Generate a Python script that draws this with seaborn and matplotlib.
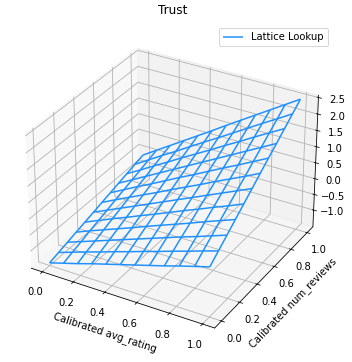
import numpy as np
import matplotlib
matplotlib.use("Agg")
import matplotlib.pyplot as plt
import seaborn as sns

# calibrated inputs
avg_rating = [0.0, 0.0909, 0.1818, 0.2727, 0.3636, 0.4545, 0.5455, 0.6364, 0.7273, 0.8182, 0.9091, 1.0]
num_reviews = [0.0, 0.0909, 0.1818, 0.2727, 0.3636, 0.4545, 0.5455, 0.6364, 0.7273, 0.8182, 0.9091, 1.0]
trust_ticks = [-1.0, -0.5, 0.0, 0.5, 1.0, 1.5, 2.0, 2.5]

# trust output, one row per num_reviews value
trust = [
    [-1.45, -1.32, -1.19, -1.05, -0.92, -0.79, -0.66, -0.53, -0.40, -0.26, -0.13, 0.00],
    [-1.37, -1.22, -1.07, -0.93, -0.78, -0.64, -0.49, -0.35, -0.20, -0.06, 0.09, 0.23],
    [-1.29, -1.13, -0.97, -0.81, -0.65, -0.49, -0.33, -0.17, -0.01, 0.14, 0.30, 0.46],
    [-1.21, -1.03, -0.86, -0.69, -0.52, -0.34, -0.17, 0.00, 0.17, 0.35, 0.52, 0.69],
    [-1.13, -0.94, -0.75, -0.57, -0.38, -0.20, -0.01, 0.18, 0.36, 0.55, 0.73, 0.92],
    [-1.05, -0.85, -0.65, -0.45, -0.25, -0.05, 0.15, 0.35, 0.55, 0.75, 0.95, 1.15],
    [-0.97, -0.75, -0.54, -0.33, -0.12, 0.10, 0.31, 0.52, 0.74, 0.95, 1.16, 1.38],
    [-0.89, -0.66, -0.43, -0.21, 0.02, 0.25, 0.47, 0.70, 0.93, 1.15, 1.38, 1.61],
    [-0.81, -0.57, -0.33, -0.09, 0.15, 0.39, 0.63, 0.87, 1.11, 1.35, 1.59, 1.83],
    [-0.73, -0.48, -0.22, 0.03, 0.29, 0.54, 0.79, 1.05, 1.30, 1.56, 1.81, 2.06],
    [-0.65, -0.38, -0.11, 0.15, 0.42, 0.69, 0.95, 1.22, 1.49, 1.76, 2.02, 2.29],
    [-0.57, -0.29, -0.01, 0.27, 0.55, 0.83, 1.12, 1.40, 1.68, 1.96, 2.24, 2.52],
]

X, Y = np.meshgrid(avg_rating, num_reviews)
Z = np.array(trust)

sns.set_style(
    "white",
    {
        "text.color": "black",
        "axes.labelcolor": "black",
        "xtick.color": "black",
        "ytick.color": "black",
        "axes.edgecolor": "black",
        "grid.color": "#b0b0b0",
    },
)
plt.rcParams["font.family"] = ["DejaVu Sans"]

W, H = 352, 362
fig = plt.figure(figsize=(W / 72, H / 72), dpi=72)
ax = fig.add_axes([0.4831 - 0.4627, 0.4852 - 0.4627 * W / H, 0.9255, 0.9255 * W / H], projection="3d")

ax.plot_wireframe(X, Y, Z, color="dodgerblue", label="Lattice Lookup", linewidth=1.5)

# camera fitted to the reference box
ax.view_init(30.59, -60.15)
ax.set_box_aspect((4.2472, 4.2755, 3.1239))
ax.set_proj_type("persp", focal_length=1.1043)
ax.set_xlim(-0.073, 1.073)
ax.set_ylim(-0.073, 1.073)
ax.set_zlim(-1.535, 2.57)
ax.set_zticks(trust_ticks)

ax.set_title("Trust", fontsize=12, x=0.508, pad=9)
ax.set_xlabel("Calibrated avg_rating", fontsize=10)
ax.set_ylabel("Calibrated num_reviews", fontsize=10)
ax.legend(loc="upper right", fontsize=10)

fig.savefig("out.png", dpi=72)
